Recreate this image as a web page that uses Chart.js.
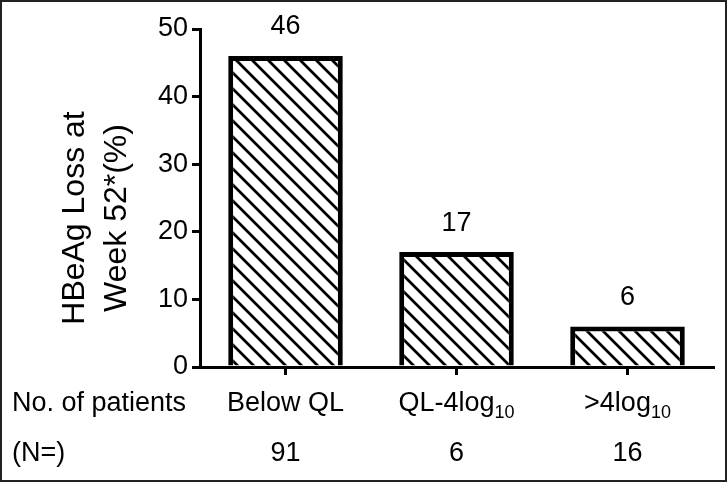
<!DOCTYPE html>
<html>
<head>
<meta charset="utf-8">
<script src="https://cdn.jsdelivr.net/npm/chart.js@4"></script>
<style>
  html, body { margin: 0; padding: 0; background: #fff; }
</style>
</head>
<body>
<canvas id="lossChart" width="727" height="482"></canvas>
<script>
// Data
const categoryNames = ['Below QL', 'QL-4log', '>4log'];
const categorySubs = ['', '10', '10'];
const hbeagLoss = [46, 17, 6];
const patientCounts = [91, 6, 16];
const yMin = 0;
const yMax = 50;
const yStep = 10;

const FONT = "'Liberation Sans', Arial, sans-serif";
const canvas = document.getElementById('lossChart');
const ctx = canvas.getContext('2d');

// diagonal "\\\" hatch for the bars
function makeHatch() {
  const c = document.createElement('canvas');
  c.width = 16;
  c.height = 16;
  const g = c.getContext('2d');
  g.fillStyle = '#fff';
  g.fillRect(0, 0, 16, 16);
  g.strokeStyle = '#000';
  g.lineWidth = 2.8;
  g.beginPath();
  g.moveTo(-4, -4); g.lineTo(20, 20);
  g.moveTo(-4, 12); g.lineTo(4, 20);
  g.moveTo(12, -4); g.lineTo(20, 4);
  g.stroke();
  return ctx.createPattern(c, 'repeat');
}

// main text with a lowered subscript, centred on cx
function drawWithSub(c, main, sub, cx, cy) {
  c.font = '27px ' + FONT;
  const w1 = c.measureText(main).width;
  c.font = '18px ' + FONT;
  const w2 = sub ? c.measureText(sub).width : 0;
  const x = cx - (w1 + w2) / 2;
  c.textAlign = 'left';
  c.textBaseline = 'middle';
  c.font = '27px ' + FONT;
  c.fillText(main, x, cy);
  if (sub) {
    c.font = '18px ' + FONT;
    c.fillText(sub, x + w1, cy + 9);
  }
}

const annotations = {
  id: 'annotations',
  afterDraw(chart) {
    const c = chart.ctx;
    const area = chart.chartArea;
    const xs = chart.scales.x;
    const meta = chart.getDatasetMeta(0);
    c.save();
    c.fillStyle = '#000';

    // value labels above the bars
    c.font = '27px ' + FONT;
    c.textAlign = 'center';
    c.textBaseline = 'middle';
    meta.data.forEach((bar, i) => {
      c.fillText(String(hbeagLoss[i]), bar.x, bar.y - 29);
    });

    // y axis title (two lines, rotated)
    const cy = (area.top + area.bottom) / 2 + 20;
    c.save();
    c.translate(75, cy);
    c.rotate(-Math.PI / 2);
    c.font = '32px ' + FONT;
    c.textAlign = 'center';
    c.textBaseline = 'middle';
    c.fillText('HBeAg Loss at', 0, 0);
    c.fillText('Week 52*(%)', 0, 42);
    c.restore();

    // rows under the axis
    const row1 = area.bottom + 37;
    const row2 = area.bottom + 87;
    c.font = '27px ' + FONT;
    c.textAlign = 'left';
    c.textBaseline = 'middle';
    c.fillText('No. of patients', 12, row1);
    c.fillText('(N=)', 12, row2);
    categoryNames.forEach((name, i) => {
      drawWithSub(c, name, categorySubs[i], xs.getPixelForValue(i), row1);
    });
    c.font = '27px ' + FONT;
    c.textAlign = 'center';
    patientCounts.forEach((n, i) => {
      c.fillText(String(n), xs.getPixelForValue(i), row2);
    });

    // outer frame
    c.strokeStyle = '#222';
    c.lineWidth = 2;
    c.strokeRect(1, 1, chart.width - 2, chart.height - 2);
    c.restore();
  }
};

new Chart(ctx, {
  type: 'bar',
  data: {
    labels: categoryNames,
    datasets: [{
      data: hbeagLoss,
      backgroundColor: makeHatch(),
      borderColor: '#000',
      borderWidth: 5,
      categoryPercentage: 1,
      barPercentage: 0.67
    }]
  },
  options: {
    responsive: false,
    animation: false,
    layout: {
      padding: { top: 29, right: 14, left: 0, bottom: 0 }
    },
    plugins: {
      legend: { display: false },
      tooltip: { enabled: false }
    },
    scales: {
      x: {
        grid: {
          display: true,
          drawOnChartArea: false,
          drawTicks: true,
          tickLength: 8,
          offset: false,
          color: '#000',
          lineWidth: 3
        },
        border: { display: true, color: '#000', width: 3 },
        ticks: { display: false },
        afterFit(scale) { scale.height = 115; }
      },
      y: {
        min: yMin,
        max: yMax,
        ticks: {
          stepSize: yStep,
          color: '#000',
          padding: 4,
          font: { family: FONT, size: 27 }
        },
        grid: {
          display: true,
          drawOnChartArea: false,
          drawTicks: true,
          tickLength: 8,
          color: '#000',
          lineWidth: 3
        },
        border: { display: true, color: '#000', width: 3 },
        afterFit(scale) { scale.width = 200; }
      }
    }
  },
  plugins: [annotations]
});
</script>
</body>
</html>
